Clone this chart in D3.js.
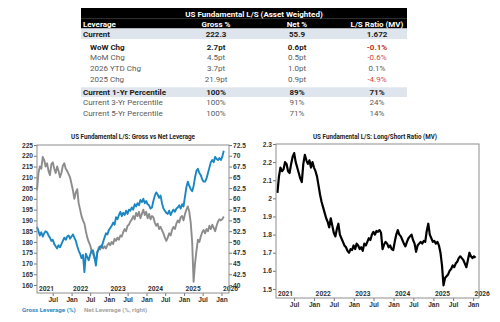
<!DOCTYPE html>
<html>
<head>
<meta charset="utf-8">
<script src="https://cdn.jsdelivr.net/npm/d3@7"></script>
<style>
  body { margin: 0; background: #fff; }
  svg { display: block; font-family: Roboto, "Liberation Sans", Arial, sans-serif; }
</style>
</head>
<body>
<svg id="chart" width="500" height="322"></svg>
<script>
// ---- summary table ----
const tableTitle = "US Fundamental L/S (Asset Weighted)";
const colHeads = ["Gross %", "Net %", "L/S Ratio (MV)"];
const rowLabels = ["Current", "WoW Chg", "MoM Chg", "2026 YTD Chg", "2025 Chg",
  "Current 1-Yr Percentile", "Current 3-Yr Percentile", "Current 5-Yr Percentile"];
const grossCol = ["222.3", "2.7pt", "4.5pt", "3.7pt", "21.9pt", "100%", "100%", "100%"];
const netCol = ["55.9", "0.6pt", "0.5pt", "1.0pt", "0.9pt", "89%", "91%", "71%"];
const ratioCol = ["1.672", "-0.1%", "-0.6%", "0.1%", "-4.9%", "71%", "24%", "14%"];

// ---- time series, sampled every two weeks from 29 Jan 2021 (one row = half a year) ----
const grossLev = [
  187, 185, 183, 184.5, 182.5, 184, 185, 184.5, 183, 182, 180.5, 181, 179,
  178, 177, 178.5, 177.5, 179, 180.5, 182, 181, 182.5, 183, 181.5, 182.5, 183.5,
  182, 180.5, 178, 176, 174.5, 172.5, 174, 166, 174.5, 173, 171.5, 174, 176,
  176, 173, 169, 175.5, 176.5, 178, 177.5, 180, 182, 184, 183.5, 185.5, 186.5,
  187.5, 189, 188, 191.5, 190.5, 192.5, 194, 192, 193.5, 192.5, 194.5, 193, 195,
  194.5, 196, 195, 197.5, 196.5, 198, 197, 199.5, 198.5, 200, 198, 199, 197.5,
  197, 195.5, 196, 199, 201.5, 203, 202, 200.5, 201.5, 198, 195.5, 194.5, 193.5,
  193, 194.5, 192.5, 194, 195, 194, 195.5, 196, 197, 195.5, 197.5, 196.5, 201,
  205.5, 208, 206, 204.5, 203.5, 206, 210, 213, 214, 212, 211, 209, 208,
  208, 209.5, 212, 214.5, 217, 218, 217, 219.5, 218.5, 218, 219, 218, 219.6,
  222.3
];
const netLev = [
  62, 66, 67.5, 67, 69.75, 69, 67.5, 68.25, 66.5, 65.5, 68, 68.5, 67,
  66, 67.5, 66.5, 65, 66, 67.75, 68.25, 67, 66.5, 65.75, 65, 63.5, 62,
  60, 61.5, 62.25, 59, 57.5, 56, 55, 54.25, 52.5, 51, 50, 49.25, 48,
  47.25, 46.25, 45.75, 47.5, 48.75, 48.25, 49.25, 48.5, 49, 48.5, 49.25, 49.75, 49.25,
  50, 49.5, 50.75, 50.25, 51, 50.5, 51.5, 51.25, 52.25, 53, 52.5, 53.75, 54,
  54.75, 55.25, 56, 55.25, 56.75, 56, 57, 55.5, 56.5, 57.5, 56.25, 57, 55.5,
  56.5, 55.25, 56, 55.75, 54.5, 53.75, 54.25, 53, 53.5, 52.75, 52, 51, 50.25,
  51, 52, 51.5, 52.75, 53.5, 53, 54.25, 55, 54.5, 55.75, 56, 55, 56.5,
  57.5, 58.25, 57, 54.5, 50, 40.75, 45, 48, 50.5, 50, 51.25, 52.25, 52.75,
  52, 53, 52.5, 53.75, 53, 54, 53.25, 52.5, 53.75, 54.75, 55.25, 55, 55.3,
  55.9
];
const lsRatio = [
  2.03, 2.12, 2.17, 2.15, 2.16, 2.20, 2.19, 2.15, 2.14, 2.19, 2.23, 2.25, 2.20,
  2.17, 2.14, 2.11, 2.09, 2.19, 2.24, 2.21, 2.19, 2.21, 2.17, 2.20, 2.17, 2.15,
  2.12, 2.07, 2.02, 1.98, 1.95, 1.92, 1.89, 1.87, 1.84, 1.89, 1.85, 1.81, 1.79,
  1.83, 1.86, 1.80, 1.78, 1.76, 1.74, 1.73, 1.71, 1.70, 1.72, 1.715, 1.74, 1.72,
  1.75, 1.74, 1.72, 1.73, 1.71, 1.75, 1.74, 1.76, 1.78, 1.77, 1.80, 1.815, 1.80,
  1.82, 1.815, 1.825, 1.81, 1.72, 1.745, 1.76, 1.75, 1.73, 1.74, 1.72, 1.715, 1.76,
  1.80, 1.825, 1.80, 1.79, 1.77, 1.75, 1.735, 1.76, 1.78, 1.79, 1.80, 1.77, 1.75,
  1.705, 1.74, 1.75, 1.76, 1.75, 1.765, 1.76, 1.82, 1.86, 1.80, 1.78, 1.76, 1.765,
  1.75, 1.76, 1.74, 1.70, 1.63, 1.52, 1.56, 1.57, 1.58, 1.60, 1.61, 1.63, 1.62,
  1.64, 1.65, 1.67, 1.68, 1.67, 1.66, 1.64, 1.62, 1.66, 1.70, 1.68, 1.67, 1.68,
  1.672
];
const dates = d3.timeDay.range(new Date(2021, 0, 29), new Date(2026, 0, 24), 14);

// ---- axis ticks ----
const grossTicks = [160, 165, 170, 175, 180, 185, 190, 195, 200, 205, 210, 215, 220, 225];
const netTicks = [40, 42.5, 45, 47.5, 50, 52.5, 55, 57.5, 60, 62.5, 65, 67.5, 70, 72.5];
const ratioTicks = [1.5, 1.6, 1.7, 1.8, 1.9, 2.0, 2.1, 2.2, 2.3];
const monthTicks = ["2021-07-01", "2022-01-01", "2022-07-01", "2023-01-01", "2023-07-01",
  "2024-01-01", "2024-07-01", "2025-01-01", "2025-07-01", "2026-01-01"];
const yearLabels = [2021, 2022, 2023, 2024, 2025, 2026];

const svg = d3.select("#chart");
svg.append("rect").attr("width", 500).attr("height", 322).attr("fill", "#fff");

// ---------- table ----------
const tx0 = 81, tx1 = 407;
const colX = [216, 297, 377];
const rowY = [36.6, 50.2, 60.2, 70.6, 81.6, 94.9, 105.2, 115.6];
const rowBold = [true, true, false, false, false, true, false, false];
const rowIndent = [0, 7, 7, 7, 7, 0, 0, 0];

svg.append("rect").attr("x", tx0).attr("y", 8).attr("width", tx1 - tx0).attr("height", 20.5).attr("fill", "#000");
svg.append("line").attr("x1", tx0).attr("x2", tx1).attr("y1", 18.6).attr("y2", 18.6)
  .attr("stroke", "#555").attr("stroke-width", 0.6);
svg.append("rect").attr("x", tx0).attr("y", 28.5).attr("width", tx1 - tx0).attr("height", 10.5).attr("fill", "#dfe5ed");
svg.append("rect").attr("x", tx0).attr("y", 87.3).attr("width", tx1 - tx0).attr("height", 9.7).attr("fill", "#dfe5ed");

const tfont = 8;
svg.append("text").attr("x", 254).attr("y", 16.6).attr("text-anchor", "middle")
  .attr("font-size", tfont).attr("font-weight", "bold").attr("fill", "#fff").text(tableTitle);
svg.append("text").attr("x", 83).attr("y", 26.8).attr("font-size", tfont).attr("font-weight", "bold")
  .attr("fill", "#fff").text("Leverage");
colHeads.forEach((h, i) => {
  svg.append("text").attr("x", colX[i]).attr("y", 26.8).attr("text-anchor", "middle")
    .attr("font-size", tfont).attr("font-weight", "bold").attr("fill", "#fff").text(h);
});

rowLabels.forEach((lab, r) => {
  const bold = rowBold[r];
  svg.append("text").attr("x", 83 + rowIndent[r]).attr("y", rowY[r])
    .attr("font-size", tfont).attr("font-weight", bold ? "bold" : "normal")
    .attr("fill", bold ? "#1a1a1a" : "#5a5a5a").text(lab);
  [grossCol[r], netCol[r], ratioCol[r]].forEach((v, c) => {
    const neg = v.startsWith("-");
    svg.append("text").attr("x", colX[c]).attr("y", rowY[r]).attr("text-anchor", "middle")
      .attr("font-size", tfont).attr("font-weight", bold ? "bold" : "normal")
      .attr("fill", neg ? (bold ? "#b8322a" : "#cf4a42") : (bold ? "#1a1a1a" : "#5a5a5a"))
      .text(v);
  });
});

// ---------- charts ----------
const axisFont = 6.6;

function styleAxis(g) {
  g.select(".domain").remove();
  g.selectAll(".tick line").attr("stroke", "#777");
  g.selectAll(".tick text").attr("font-size", axisFont).attr("font-weight", "bold")
    .attr("fill", "#333").attr("font-family", null);
}

function panel(cfg) {
  const x = d3.scaleTime().domain(cfg.xDomain).range([cfg.left, cfg.right]);
  const y = d3.scaleLinear().domain(cfg.yDomain).range([cfg.bottom, cfg.top]);
  const g = svg.append("g");

  g.append("text").attr("x", cfg.titleX).attr("y", 138.6).attr("text-anchor", "middle")
    .attr("font-size", 7).attr("font-weight", "bold").attr("fill", "#222")
    .attr("textLength", 124).attr("lengthAdjust", "spacingAndGlyphs").text(cfg.title);

  g.append("g").attr("transform", `translate(${cfg.left},0)`)
    .call(d3.axisLeft(y).tickValues(cfg.yTicks).tickSize(3).tickPadding(1).tickFormat(cfg.yFmt))
    .call(styleAxis);

  g.append("g").attr("transform", `translate(0,${cfg.bottom})`)
    .call(d3.axisBottom(x).tickValues(monthTicks.map(d => d3.timeParse("%Y-%m-%d")(d)))
      .tickSize(3).tickPadding(1.6).tickFormat(d => d.getMonth() === 0 ? "Jan" : "Jul"))
    .call(styleAxis);

  // year row sits inside the plot, just above the axis line
  g.selectAll(".yr").data(yearLabels).enter().append("text")
    .attr("x", d => Math.max(cfg.left + 2, x(new Date(d, 0, 1)) + 1.5))
    .attr("y", cfg.bottom - 1.6)
    .attr("font-size", axisFont).attr("font-weight", "bold").attr("fill", "#333")
    .text(d => d);

  return { x, y, g };
}

// left: gross vs net
const L = { left: 37, right: 229, top: 145, bottom: 293 };
const grossDomain = [156.3, 225];
const netDomain = [38.15, 72.5];
const left = panel({
  ...L,
  title: "US Fundamental L/S: Gross vs Net Leverage", titleX: 133,
  xDomain: [new Date(2021, 0, 29), new Date(2026, 2, 15)],
  yDomain: grossDomain, yTicks: grossTicks, yFmt: d3.format("d")
});
const yNet = d3.scaleLinear().domain(netDomain).range([L.bottom, L.top]);
left.g.append("g").attr("transform", `translate(${L.right},0)`)
  .call(d3.axisRight(yNet).tickValues(netTicks).tickSize(3).tickPadding(1)
    .tickFormat(d => d % 1 ? d.toFixed(1) : d))
  .call(styleAxis);

left.g.append("path").datum(netLev)
  .attr("fill", "none").attr("stroke", "#8c8c8c").attr("stroke-width", 1.9).attr("stroke-linejoin", "round")
  .attr("d", d3.line().x((d, i) => left.x(dates[i])).y(d => yNet(d)));
left.g.append("path").datum(grossLev)
  .attr("fill", "none").attr("stroke", "#1b87c2").attr("stroke-width", 1.9).attr("stroke-linejoin", "round")
  .attr("d", d3.line().x((d, i) => left.x(dates[i])).y(d => left.y(d)));

left.g.append("rect").attr("x", L.left).attr("y", L.top).attr("width", L.right - L.left)
  .attr("height", L.bottom - L.top).attr("fill", "none").attr("stroke", "#8e8e8e").attr("stroke-width", 1);

svg.append("text").attr("x", 22).attr("y", 311.5).attr("font-size", 6.2).attr("font-weight", "bold")
  .attr("fill", "#2a8cc4").text("Gross Leverage (%)");
svg.append("text").attr("x", 84).attr("y", 311.5).attr("font-size", 6.2).attr("font-weight", "bold")
  .attr("fill", "#a3a3a3").text("Net Leverage (%, right)");

// right: long/short ratio
const R = { left: 276, right: 479, top: 144, bottom: 298 };
const right = panel({
  ...R,
  title: "US Fundamental L/S: Long/Short Ratio (MV)", titleX: 375,
  xDomain: [new Date(2021, 0, 16), new Date(2026, 1, 24)],
  yDomain: [1.45, 2.3], yTicks: ratioTicks, yFmt: d => String(+d.toFixed(1))
});
right.g.append("path").datum(lsRatio)
  .attr("fill", "none").attr("stroke", "#000").attr("stroke-width", 2.2).attr("stroke-linejoin", "round")
  .attr("d", d3.line().x((d, i) => right.x(dates[i])).y(d => right.y(d)));
right.g.append("rect").attr("x", R.left).attr("y", R.top).attr("width", R.right - R.left)
  .attr("height", R.bottom - R.top).attr("fill", "none").attr("stroke", "#8e8e8e").attr("stroke-width", 1);
</script>
</body>
</html>
